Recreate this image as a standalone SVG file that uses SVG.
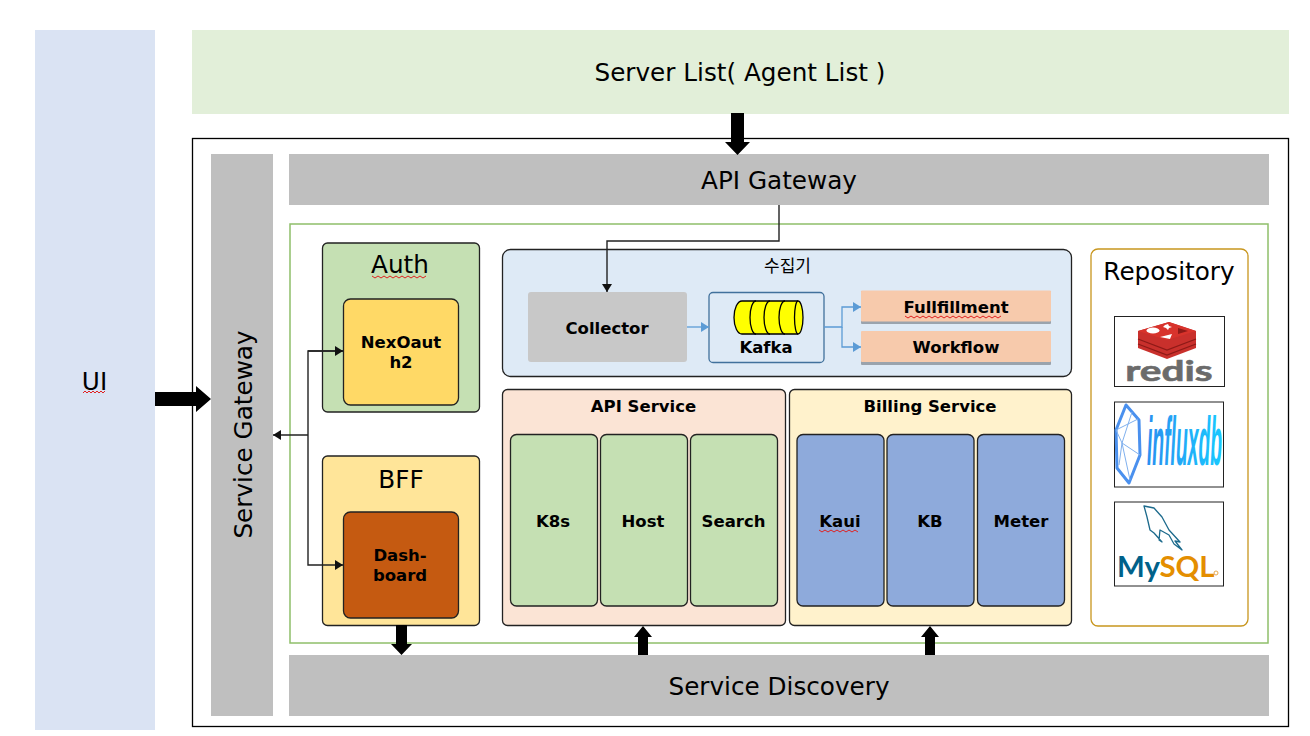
<svg xmlns="http://www.w3.org/2000/svg" width="1310" height="736" viewBox="0 0 1310 736">
<defs>
<style>
text{font-family:"DejaVu Sans",sans-serif;text-anchor:middle;fill:#000}
.t24{font-size:24.700px}
.b{font-size:16.500px;font-weight:bold}
.box{stroke:#222;stroke-width:1.300}
.bar{fill:#bfbfbf}
.conn{fill:none;stroke:#222;stroke-width:1.400}
.blue{fill:none;stroke:#5b9bd5;stroke-width:1.300}
.sq{fill:none;stroke:#e02020;stroke-width:1}
.fat{fill:#000}
.logo{font-family:"Lato","Liberation Sans",sans-serif;font-weight:700}
</style>
<linearGradient id="ifx" gradientUnits="objectBoundingBox" x1="0" y1="0" x2="1" y2="0"><stop offset="0" stop-color="#2a90f0"/><stop offset="1" stop-color="#19c8ff"/></linearGradient>
<marker id="ah" markerUnits="userSpaceOnUse" markerWidth="9" markerHeight="10" refX="8" refY="5" orient="auto"><path d="M0 0L8 5L0 10Z" fill="#111"/></marker>
<marker id="ab" markerUnits="userSpaceOnUse" markerWidth="9" markerHeight="10" refX="8" refY="5" orient="auto"><path d="M0 0L8 5L0 10Z" fill="#5b9bd5"/></marker>
</defs>
<rect width="1310" height="736" fill="#fff"/>
<g id="ui"><rect x="35" y="30" width="120" height="700" fill="#dae3f3"/><text x="94.500" y="390" class="t24">UI</text><path class="sq" d="M83 393l2-2 2 2 2-2 2 2 2-2 2 2 2-2 2 2 2-2 2 2 2-2"/></g>
<g id="server-list"><rect x="192" y="30" width="1097" height="84" fill="#e2efd9"/><text x="740" y="81" class="t24">Server List( Agent List )</text></g>
<g id="frame"><rect x="192.500" y="138.500" width="1096" height="588" fill="#fff" stroke="#000" stroke-width="1.300"/></g>
<g id="service-gateway"><rect x="211" y="154" width="62" height="562" class="bar"/><text transform="translate(251.500 434.500) rotate(-90)" class="t24">Service Gateway</text></g>
<g id="api-gateway"><rect x="289" y="154" width="980" height="51" class="bar"/><text x="779" y="189" class="t24">API Gateway</text></g>
<g id="service-discovery"><rect x="289" y="655" width="980" height="61" class="bar"/><text x="779" y="695" class="t24">Service Discovery</text></g>
<g id="green-frame"><rect x="290" y="224" width="978" height="419" fill="#fff" stroke="#8fbf6a" stroke-width="1.500"/></g>
<g id="auth"><rect x="322.500" y="243" width="157" height="169" rx="5" fill="#c5e0b3" class="box"/><text x="400" y="273" class="t24">Auth</text><path class="sq" d="M372 276l3 2 3-2 3 2 3-2 3 2 3-2 3 2 3-2 3 2 3-2 3 2 3-2 3 2 3-2 3 2 3-2 3 2 3-2"/></g>
<g id="nexoauth"><rect x="343.500" y="299" width="115" height="106" rx="7" fill="#ffd966" class="box"/><text x="401" y="348" class="b">NexOaut</text><text x="401" y="368" class="b">h2</text></g>
<g id="bff"><rect x="322.500" y="456" width="157" height="169.500" rx="5" fill="#ffe599" class="box"/><text x="401" y="488" class="t24">BFF</text></g>
<g id="dashboard"><rect x="343.500" y="512" width="115" height="106" rx="7" fill="#c55a11" class="box"/><text x="400" y="561" class="b">Dash-</text><text x="400" y="581" class="b">board</text></g>
<g id="collector-group"><rect x="502.500" y="249.500" width="569" height="127" rx="8" fill="#deeaf6" class="box"/><text x="787.500" y="272" font-size="17" style="font-family:'DejaVu Sans','Noto Sans CJK KR',sans-serif">수집기</text></g>
<g id="collector"><rect x="528" y="292" width="159" height="70" rx="3" fill="#c8c8c8"/><text x="607" y="334" class="b">Collector</text></g>
<g id="kafka"><rect x="709" y="292.500" width="115" height="70" rx="4" fill="#deeaf6" stroke="#41719c" stroke-width="1.300"/>
<path d="M742 301H798A5 16.500 0 0 1 798 334H742A8 16.500 0 0 1 742 301Z" fill="#ff0" stroke="#000" stroke-width="1.300"/>
<path d="M798 301A3.500 16.500 0 0 0 798 334M756 301A6 16.500 0 0 0 756 334M770 301A6 16.500 0 0 0 770 334M785 301A6 16.500 0 0 0 785 334" fill="none" stroke="#000" stroke-width="1.300"/>
<text x="766" y="353" class="b">Kafka</text></g>
<g id="fullfillment"><rect x="861" y="291" width="190" height="33" rx="1" fill="#9aa3ad"/><rect x="861" y="290.500" width="190" height="31" rx="1" fill="#f7caac"/><text x="956" y="313" class="b">Fullfillment</text><path class="sq" d="M905 316l3 2 3-2 3 2 3-2 3 2 3-2 3 2 3-2 3 2 3-2 3 2 3-2 3 2 3-2 3 2 3-2 3 2 3-2 3 2 3-2 3 2 3-2 3 2 3-2 3 2 3-2 3 2 3-2 3 2 3-2 3 2 3-2"/></g>
<g id="workflow"><rect x="861" y="332" width="190" height="33" rx="1" fill="#9aa3ad"/><rect x="861" y="331" width="190" height="31" rx="1" fill="#f7caac"/><text x="956" y="353" class="b">Workflow</text></g>
<g id="api-service"><rect x="502.500" y="389.500" width="283" height="236" rx="5" fill="#fbe4d5" class="box"/><text x="643.500" y="412" class="b">API Service</text></g>
<g id="k8s"><rect x="510.500" y="434.500" width="87" height="171.500" rx="6" fill="#c5e0b3" class="box"/><text x="553" y="527" class="b">K8s</text></g>
<g id="host"><rect x="600.500" y="434.500" width="87" height="171.500" rx="6" fill="#c5e0b3" class="box"/><text x="643" y="527" class="b">Host</text></g>
<g id="search"><rect x="690.500" y="434.500" width="87" height="171.500" rx="6" fill="#c5e0b3" class="box"/><text x="733.500" y="527" class="b">Search</text></g>
<g id="billing-service"><rect x="789.500" y="389.500" width="282" height="236" rx="5" fill="#fff2cc" class="box"/><text x="930" y="412" class="b">Billing Service</text></g>
<g id="kaui"><rect x="797" y="434.500" width="87" height="171.500" rx="6" fill="#8eaadb" class="box"/><text x="840" y="527" class="b">Kaui</text><path class="sq" d="M819 530l3 2 3-2 3 2 3-2 3 2 3-2 3 2 3-2 3 2 3-2 3 2 3-2 3 2"/></g>
<g id="kb"><rect x="887" y="434.500" width="87" height="171.500" rx="6" fill="#8eaadb" class="box"/><text x="930" y="527" class="b">KB</text></g>
<g id="meter"><rect x="977.500" y="434.500" width="87" height="171.500" rx="6" fill="#8eaadb" class="box"/><text x="1021" y="527" class="b">Meter</text></g>
<g id="repository"><rect x="1091" y="249" width="157" height="377" rx="7" fill="#fff" stroke="#c8961e" stroke-width="1.300"/><text x="1169" y="280" class="t24">Repository</text></g>
<g id="redis"><rect x="1114.500" y="316.500" width="110" height="70" fill="#fff" stroke="#222"/>
<path d="M1138 331L1169 322L1196 331V348L1167 359L1138 348Z" fill="#c9302c"/>
<path d="M1138 339L1167 350L1196 339M1138 344L1167 355L1196 344" fill="none" stroke="#8e1a17" stroke-width="1.300"/>
<path d="M1138 331L1169 322L1196 331L1167 340Z" fill="#d8332c"/>
<ellipse cx="1153" cy="330.500" rx="6.500" ry="3" fill="#fff"/><path d="M1160 337L1172 334L1170 339Z" fill="#fff"/><path d="M1165 325l3-1 1 2 3 1-3 1-1 2-2-2-3-1z" fill="#fff"/><path d="M1178 328L1188 331L1178 334Z" fill="#8e1a17"/>
<text transform="translate(1169 381) scale(1.400 1)" font-size="29" class="logo" style="fill:#6b6b6b" stroke="#6b6b6b" stroke-width=".6">redis</text></g>
<g id="influxdb"><rect x="1114.500" y="402" width="109" height="85" fill="#fff" stroke="#222"/>
<path d="M1126 405L1139 420L1140 455L1129 483L1117 468L1116 430Z" fill="none" stroke="#4a90ee" stroke-width="3" stroke-linejoin="round"/>
<path d="M1116 430L1138 419M1132 412L1122 443L1140 455M1116 430L1122 443L1119 465M1122 443L1130 480" fill="none" stroke="#7fb0ee" stroke-width="1"/>
<text transform="translate(1184.500 465) scale(.284 1)" font-size="68" font-style="italic" font-weight="bold" style="fill:url(#ifx);font-family:'Liberation Sans',sans-serif">influxdb</text></g>
<g id="mysql"><rect x="1114.500" y="502" width="109" height="84" fill="#fff" stroke="#222"/>
<path d="M1144 506L1154 508L1162 517L1169 530L1180 542L1175 541L1182 550L1174 544L1169 535L1160 530L1159 540L1162 542L1154 533L1150 530L1147 517Z" fill="none" stroke="#1c6a8c" stroke-width="1.300" stroke-linejoin="round"/>
<text transform="translate(1138.500 577) scale(1.050 1)" font-size="28" class="logo" style="fill:#00618a">My</text>
<text transform="translate(1187 577) scale(1.050 1)" font-size="28" class="logo" style="fill:#e48e00">SQL</text>
<circle cx="1216" cy="573" r="2" fill="none" stroke="#e8a94a"/></g>
<g id="connectors">
<path class="fat" d="M731 113H744V142H750L737.500 155L725 142H731Z"/>
<path class="fat" d="M155 392H196V386L211 399L196 412V406H155Z"/>
<path class="fat" d="M396 625H407V644H412L401.500 655L391 644H396Z"/>
<path class="fat" d="M638 655V637H634L643 626L652 637H648V655Z"/>
<path class="fat" d="M925 655V637H921L930 626L939 637H935V655Z"/>
<path class="conn" d="M779 205V241H607V292" marker-end="url(#ah)"/>
<path class="conn" d="M308 435H273" marker-end="url(#ah)"/>
<path class="conn" d="M343 351H308V565H343" marker-end="url(#ah)"/>
<path class="conn" d="M308 351H343" marker-end="url(#ah)"/>
<path class="blue" d="M687 327H709" marker-end="url(#ab)"/>
<path class="blue" d="M824 327H842V307H861" marker-end="url(#ab)"/>
<path class="blue" d="M842 327V347H861" marker-end="url(#ab)"/>
</g>
</svg>
